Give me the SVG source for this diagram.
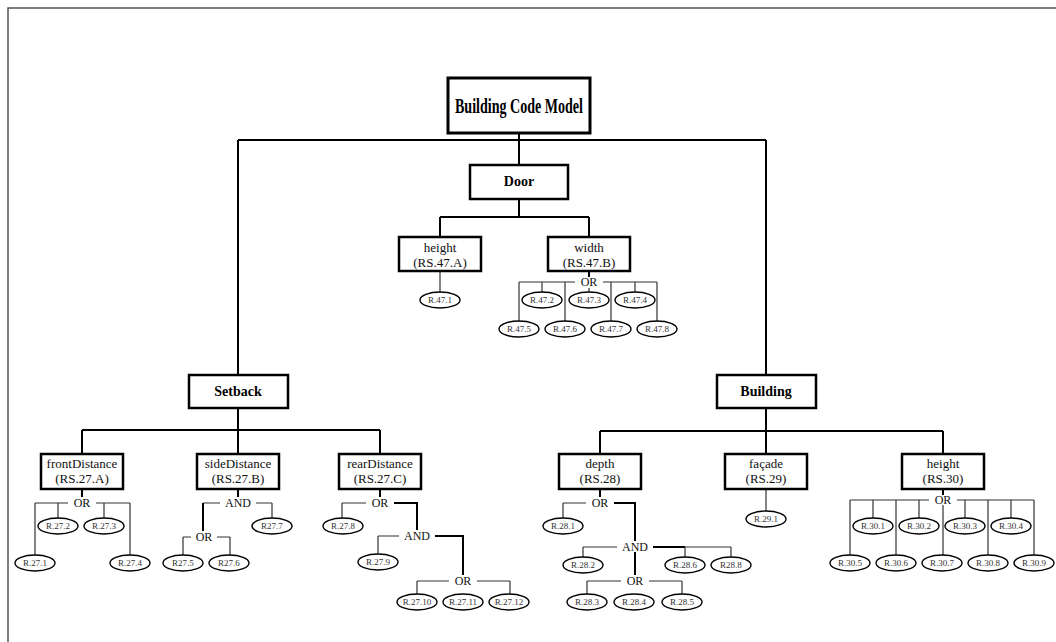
<svg xmlns="http://www.w3.org/2000/svg" width="1056" height="642" viewBox="0 0 1056 642">
  <style>
    .frame { fill: none; stroke: #555; stroke-width: 1.5; }
    .box { fill: #fff; stroke: #000; stroke-width: 2.5; }
    .topbox { fill: #fff; stroke: #000; stroke-width: 3; }
    .title { font-family: "Liberation Serif", "Times New Roman", serif; font-weight: bold; text-anchor: middle; fill: #000; }
    .lbl { font-family: "Liberation Serif", "Times New Roman", serif; font-size: 13px; text-anchor: middle; fill: #111; }
    .op { font-family: "Liberation Serif", "Times New Roman", serif; font-size: 12px; text-anchor: middle; fill: #111; }
    .leaf ellipse { fill: #fff; stroke: #000; stroke-width: 1.4; }
    .leaf text { font-family: "Liberation Serif", "Times New Roman", serif; font-size: 9px; text-anchor: middle; fill: #333; }
    .main { stroke: #000; stroke-width: 2; fill: none; }
    .thin { stroke: #333; stroke-width: 1.2; fill: none; }
  </style>

  <rect class="frame" x="8" y="8" width="1100" height="700"/>

  <!-- connectors -->
  <g id="connectors">
    <!-- top level -->
    <path class="main" d="M519 133 V165 M238 140 H766 M238 140 V375 M766 140 V375"/>
    <!-- door -->
    <path class="main" d="M519 199 V217 M440 217 H589 M440 217 V237 M589 217 V237"/>
    <path class="thin" d="M440 271 V292"/>
    <path class="main" d="M589 271 V277"/>
    <path class="thin" d="M519 282 H575 M603 282 H657 M519 282 V321 M542 282 V292 M565 282 V321 M589 288 V292 M611 282 V321 M635 282 V292 M657 282 V321"/>
    <!-- setback -->
    <path class="main" d="M238 408 V430 M82 430 H380 M82 430 V454 M238 430 V454 M380 430 V454"/>
    <!-- frontDistance -->
    <path class="main" d="M82 489 V497"/>
    <path class="thin" d="M35 503 H68 M96 503 H130 M35 503 V555 M58 503 V518 M104 503 V518 M130 503 V555"/>
    <!-- sideDistance -->
    <path class="main" d="M238 489 V497"/>
    <path class="thin" d="M203 503 H220 M256 503 H272 M272 503 V518"/>
    <path class="main" d="M203 503 V531"/>
    <path class="thin" d="M183 537 H191 M217 537 H230 M183 537 V555 M230 537 V555"/>
    <!-- rearDistance -->
    <path class="main" d="M380 489 V497"/>
    <path class="thin" d="M342 503 H366 M342 503 V518"/>
    <path class="main" d="M394 503 H417 V530"/>
    <path class="thin" d="M378 536 H399 M378 536 V554"/>
    <path class="main" d="M435 536 H463 V575"/>
    <path class="thin" d="M417 581 H449 M477 581 H510 M417 581 V594 M510 581 V594"/>
    <!-- building -->
    <path class="main" d="M766 408 V431 M600 431 H943 M600 431 V454 M766 431 V454 M943 431 V454"/>
    <!-- depth -->
    <path class="main" d="M600 489 V497"/>
    <path class="thin" d="M563 503 H586 M563 503 V518"/>
    <path class="main" d="M614 503 H635 V541"/>
    <path class="thin" d="M583 547 H617 M583 547 V557"/>
    <path class="main" d="M653 547 H685"/>
    <path class="thin" d="M685 547 H731 M685 547 V557 M731 547 V557"/>
    <path class="main" d="M635 552 V575"/>
    <path class="thin" d="M587 581 H621 M649 581 H682 M587 581 V594 M682 581 V594"/>
    <!-- facade -->
    <path class="thin" d="M766 489 V511"/>
    <!-- height RS.30 -->
    <path class="main" d="M943 489 V495"/>
    <path class="thin" d="M850 500 H929 M957 500 H1034 M850 500 V555 M873 500 V518 M896 500 V555 M919 500 V518 M943 505 V555 M965 500 V518 M988 500 V555 M1011 500 V518 M1034 500 V555"/>
  </g>

  <!-- root -->
  <g id="building-code-model">
    <rect class="topbox" x="448" y="78" width="142" height="55"/>
    <text class="title" x="519" y="113" font-size="21" textLength="128" lengthAdjust="spacingAndGlyphs">Building Code Model</text>
  </g>

  <!-- door branch -->
  <g id="door">
    <rect class="box" x="470" y="165" width="98" height="34"/>
    <text class="title" x="519" y="186" font-size="14">Door</text>
  </g>
  <g id="door-height">
    <rect class="box" x="399" y="237" width="82" height="34"/>
    <text class="lbl" x="440" y="252">height</text>
    <text class="lbl" x="440" y="267">(RS.47.A)</text>
  </g>
  <g id="door-width">
    <rect class="box" x="548" y="237" width="82" height="34"/>
    <text class="lbl" x="589" y="252">width</text>
    <text class="lbl" x="589" y="267">(RS.47.B)</text>
    <text class="op" x="589" y="286">OR</text>
  </g>
  <g class="leaf" id="r47-1"><ellipse cx="440" cy="300" rx="20" ry="8"/><text x="440" y="303">R.47.1</text></g>
  <g class="leaf" id="r47-2"><ellipse cx="542" cy="300" rx="20" ry="8"/><text x="542" y="303">R.47.2</text></g>
  <g class="leaf" id="r47-3"><ellipse cx="589" cy="300" rx="20" ry="8"/><text x="589" y="303">R.47.3</text></g>
  <g class="leaf" id="r47-4"><ellipse cx="635" cy="300" rx="20" ry="8"/><text x="635" y="303">R.47.4</text></g>
  <g class="leaf" id="r47-5"><ellipse cx="519" cy="329" rx="20" ry="8"/><text x="519" y="332">R.47.5</text></g>
  <g class="leaf" id="r47-6"><ellipse cx="565" cy="329" rx="20" ry="8"/><text x="565" y="332">R.47.6</text></g>
  <g class="leaf" id="r47-7"><ellipse cx="611" cy="329" rx="20" ry="8"/><text x="611" y="332">R.47.7</text></g>
  <g class="leaf" id="r47-8"><ellipse cx="657" cy="329" rx="20" ry="8"/><text x="657" y="332">R.47.8</text></g>

  <!-- setback branch -->
  <g id="setback">
    <rect class="box" x="189" y="375" width="99" height="33"/>
    <text class="title" x="238" y="396" font-size="14">Setback</text>
  </g>
  <g id="front-distance">
    <rect class="box" x="41" y="454" width="82" height="35"/>
    <text class="lbl" x="82" y="468">frontDistance</text>
    <text class="lbl" x="82" y="483">(RS.27.A)</text>
    <text class="op" x="82" y="507">OR</text>
  </g>
  <g class="leaf" id="r27-1"><ellipse cx="35" cy="563" rx="20" ry="8"/><text x="35" y="566">R.27.1</text></g>
  <g class="leaf" id="r27-2"><ellipse cx="58" cy="526" rx="20" ry="8"/><text x="58" y="529">R.27.2</text></g>
  <g class="leaf" id="r27-3"><ellipse cx="104" cy="526" rx="20" ry="8"/><text x="104" y="529">R.27.3</text></g>
  <g class="leaf" id="r27-4"><ellipse cx="130" cy="563" rx="20" ry="8"/><text x="130" y="566">R.27.4</text></g>

  <g id="side-distance">
    <rect class="box" x="197" y="454" width="82" height="35"/>
    <text class="lbl" x="238" y="468">sideDistance</text>
    <text class="lbl" x="238" y="483">(RS.27.B)</text>
    <text class="op" x="238" y="507">AND</text>
    <text class="op" x="204" y="541">OR</text>
  </g>
  <g class="leaf" id="r27-5"><ellipse cx="183" cy="563" rx="20" ry="8"/><text x="183" y="566">R27.5</text></g>
  <g class="leaf" id="r27-6"><ellipse cx="229" cy="563" rx="20" ry="8"/><text x="229" y="566">R27.6</text></g>
  <g class="leaf" id="r27-7"><ellipse cx="272" cy="526" rx="20" ry="8"/><text x="272" y="529">R27.7</text></g>

  <g id="rear-distance">
    <rect class="box" x="339" y="454" width="82" height="35"/>
    <text class="lbl" x="380" y="468">rearDistance</text>
    <text class="lbl" x="380" y="483">(RS.27.C)</text>
    <text class="op" x="380" y="507">OR</text>
    <text class="op" x="417" y="540">AND</text>
    <text class="op" x="463" y="585">OR</text>
  </g>
  <g class="leaf" id="r27-8"><ellipse cx="343" cy="526" rx="20" ry="8"/><text x="343" y="529">R.27.8</text></g>
  <g class="leaf" id="r27-9"><ellipse cx="378" cy="562" rx="20" ry="8"/><text x="378" y="565">R.27.9</text></g>
  <g class="leaf" id="r27-10"><ellipse cx="417" cy="602" rx="20" ry="8"/><text x="417" y="605">R.27.10</text></g>
  <g class="leaf" id="r27-11"><ellipse cx="463" cy="602" rx="20" ry="8"/><text x="463" y="605">R.27.11</text></g>
  <g class="leaf" id="r27-12"><ellipse cx="509" cy="602" rx="20" ry="8"/><text x="509" y="605">R.27.12</text></g>

  <!-- building branch -->
  <g id="building">
    <rect class="box" x="717" y="375" width="99" height="33"/>
    <text class="title" x="766" y="396" font-size="14">Building</text>
  </g>
  <g id="depth">
    <rect class="box" x="559" y="454" width="82" height="35"/>
    <text class="lbl" x="600" y="468">depth</text>
    <text class="lbl" x="600" y="483">(RS.28)</text>
    <text class="op" x="600" y="507">OR</text>
    <text class="op" x="635" y="551">AND</text>
    <text class="op" x="635" y="585">OR</text>
  </g>
  <g class="leaf" id="r28-1"><ellipse cx="563" cy="526" rx="20" ry="8"/><text x="563" y="529">R.28.1</text></g>
  <g class="leaf" id="r28-2"><ellipse cx="583" cy="565" rx="20" ry="8"/><text x="583" y="568">R.28.2</text></g>
  <g class="leaf" id="r28-6"><ellipse cx="685" cy="565" rx="20" ry="8"/><text x="685" y="568">R.28.6</text></g>
  <g class="leaf" id="r28-8"><ellipse cx="731" cy="565" rx="20" ry="8"/><text x="731" y="568">R28.8</text></g>
  <g class="leaf" id="r28-3"><ellipse cx="587" cy="602" rx="20" ry="8"/><text x="587" y="605">R.28.3</text></g>
  <g class="leaf" id="r28-4"><ellipse cx="634" cy="602" rx="20" ry="8"/><text x="634" y="605">R.28.4</text></g>
  <g class="leaf" id="r28-5"><ellipse cx="682" cy="602" rx="20" ry="8"/><text x="682" y="605">R.28.5</text></g>

  <g id="facade">
    <rect class="box" x="725" y="454" width="82" height="35"/>
    <text class="lbl" x="766" y="468">façade</text>
    <text class="lbl" x="766" y="483">(RS.29)</text>
  </g>
  <g class="leaf" id="r29-1"><ellipse cx="766" cy="519" rx="20" ry="8"/><text x="766" y="522">R.29.1</text></g>

  <g id="building-height">
    <rect class="box" x="902" y="454" width="82" height="35"/>
    <text class="lbl" x="943" y="468">height</text>
    <text class="lbl" x="943" y="483">(RS.30)</text>
    <text class="op" x="943" y="504">OR</text>
  </g>
  <g class="leaf" id="r30-1"><ellipse cx="873" cy="526" rx="20" ry="8"/><text x="873" y="529">R.30.1</text></g>
  <g class="leaf" id="r30-2"><ellipse cx="919" cy="526" rx="20" ry="8"/><text x="919" y="529">R.30.2</text></g>
  <g class="leaf" id="r30-3"><ellipse cx="965" cy="526" rx="20" ry="8"/><text x="965" y="529">R.30.3</text></g>
  <g class="leaf" id="r30-4"><ellipse cx="1011" cy="526" rx="20" ry="8"/><text x="1011" y="529">R.30.4</text></g>
  <g class="leaf" id="r30-5"><ellipse cx="850" cy="563" rx="20" ry="8"/><text x="850" y="566">R.30.5</text></g>
  <g class="leaf" id="r30-6"><ellipse cx="896" cy="563" rx="20" ry="8"/><text x="896" y="566">R.30.6</text></g>
  <g class="leaf" id="r30-7"><ellipse cx="942" cy="563" rx="20" ry="8"/><text x="942" y="566">R.30.7</text></g>
  <g class="leaf" id="r30-8"><ellipse cx="988" cy="563" rx="20" ry="8"/><text x="988" y="566">R.30.8</text></g>
  <g class="leaf" id="r30-9"><ellipse cx="1034" cy="563" rx="20" ry="8"/><text x="1034" y="566">R.30.9</text></g>
</svg>
